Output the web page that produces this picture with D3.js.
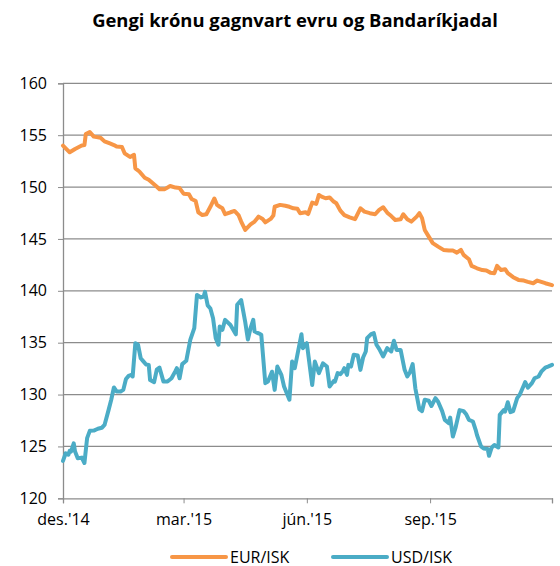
<!DOCTYPE html>
<html>
<head>
<meta charset="utf-8">
<script src="https://cdn.jsdelivr.net/npm/d3@7"></script>
<style>
  body { margin: 0; background: #fff; }
  text { font-family: "Open Sans", "Noto Sans", sans-serif; fill: #000; }
</style>
</head>
<body>
<div id="chart"></div>
<script>
// ISK per EUR
var eurData = [
  ["2014-12-01",154.0],["2014-12-06",153.35],["2014-12-10",153.67],["2014-12-15",154.0],["2014-12-17",154.05],
  ["2014-12-18",155.1],["2014-12-21",155.3],["2014-12-24",154.86],["2014-12-29",154.76],["2015-01-01",154.4],
  ["2015-01-05",154.2],["2015-01-08",154.05],["2015-01-10",153.9],["2015-01-14",153.86],["2015-01-16",153.25],
  ["2015-01-20",152.9],["2015-01-23",153.1],["2015-01-24",151.8],["2015-01-27",151.5],["2015-01-31",150.9],
  ["2015-02-03",150.7],["2015-02-08",150.14],["2015-02-11",149.8],["2015-02-15",149.8],["2015-02-19",150.1],
  ["2015-02-23",149.95],["2015-02-26",149.9],["2015-03-01",149.36],["2015-03-05",149.3],["2015-03-07",148.85],
  ["2015-03-10",148.66],["2015-03-12",147.57],["2015-03-15",147.3],["2015-03-18",147.38],["2015-03-21",148.1],
  ["2015-03-24",148.9],["2015-03-26",148.28],["2015-03-28",148.1],["2015-03-30",147.95],["2015-04-01",147.38],
  ["2015-04-05",147.57],["2015-04-08",147.7],["2015-04-11",147.3],["2015-04-13",146.67],["2015-04-16",145.87],
  ["2015-04-20",146.4],["2015-04-23",146.67],["2015-04-26",147.15],["2015-04-29",146.93],["2015-05-01",146.6],
  ["2015-05-05",146.93],["2015-05-07",147.25],["2015-05-08",148.1],["2015-05-12",148.28],["2015-05-16",148.2],
  ["2015-05-19",148.1],["2015-05-22",147.95],["2015-05-25",147.9],["2015-05-27",147.48],["2015-05-31",147.57],
  ["2015-06-02",147.4],["2015-06-05",148.5],["2015-06-08",148.37],["2015-06-10",149.24],["2015-06-12",149.08],
  ["2015-06-15",148.92],["2015-06-18",149.0],["2015-06-21",148.6],["2015-06-23",148.44],["2015-06-26",147.73],
  ["2015-06-29",147.3],["2015-07-03",147.08],["2015-07-07",146.9],["2015-07-11",147.95],["2015-07-14",147.63],
  ["2015-07-18",147.48],["2015-07-22",147.38],["2015-07-25",147.8],["2015-07-28",148.05],["2015-07-31",147.53],
  ["2015-08-03",147.2],["2015-08-06",146.83],["2015-08-10",146.9],["2015-08-12",147.38],["2015-08-15",146.9],
  ["2015-08-18",146.67],["2015-08-22",147.15],["2015-08-24",147.48],["2015-08-26",147.0],["2015-08-28",145.87],
  ["2015-08-31",145.22],["2015-09-03",144.6],["2015-09-07",144.26],["2015-09-11",143.94],["2015-09-15",143.88],
  ["2015-09-18",143.88],["2015-09-21",143.68],["2015-09-24",143.94],["2015-09-26",143.46],["2015-09-30",143.04],
  ["2015-10-02",142.4],["2015-10-06",142.17],["2015-10-10",142.0],["2015-10-13",141.95],["2015-10-16",141.75],
  ["2015-10-19",141.7],["2015-10-21",142.4],["2015-10-24",142.0],["2015-10-27",142.08],["2015-10-29",141.7],
  ["2015-11-02",141.31],["2015-11-06",141.05],["2015-11-10",140.99],["2015-11-13",140.86],["2015-11-17",140.73],
  ["2015-11-20",140.99],["2015-11-23",140.86],["2015-11-26",140.73],["2015-12-01",140.54]
];

// ISK per USD
var usdData = [
  ["2014-12-01",123.6],["2014-12-03",124.34],["2014-12-05",124.2],["2014-12-06",124.57],["2014-12-07",124.5],
  ["2014-12-09",125.3],["2014-12-10",124.5],["2014-12-12",123.86],["2014-12-15",123.92],["2014-12-17",123.4],
  ["2014-12-19",125.8],["2014-12-21",126.5],["2014-12-24",126.53],["2014-12-27",126.7],["2014-12-30",126.8],
  ["2015-01-01",127.07],["2015-01-04",128.5],["2015-01-06",129.5],["2015-01-08",130.68],["2015-01-10",130.3],
  ["2015-01-13",130.3],["2015-01-15",130.45],["2015-01-17",131.5],["2015-01-19",131.8],["2015-01-21",131.9],
  ["2015-01-22",131.74],["2015-01-24",134.95],["2015-01-26",134.8],["2015-01-28",133.5],["2015-01-30",133.2],
  ["2015-02-01",132.9],["2015-02-03",132.86],["2015-02-04",131.4],["2015-02-07",131.2],["2015-02-09",132.4],
  ["2015-02-11",132.6],["2015-02-14",131.25],["2015-02-17",131.25],["2015-02-20",131.57],["2015-02-23",132.28],
  ["2015-02-24",132.54],["2015-02-26",131.57],["2015-02-28",132.93],["2015-03-03",133.25],["2015-03-06",135.27],
  ["2015-03-09",136.4],["2015-03-11",139.6],["2015-03-14",139.36],["2015-03-16",139.45],["2015-03-17",139.9],
  ["2015-03-19",138.6],["2015-03-21",138.3],["2015-03-23",137.36],["2015-03-25",135.43],["2015-03-27",134.8],
  ["2015-03-28",136.56],["2015-03-30",136.24],["2015-04-01",137.2],["2015-04-05",136.7],["2015-04-09",135.8],
  ["2015-04-10",138.65],["2015-04-13",139.1],["2015-04-16",137.0],["2015-04-18",135.3],["2015-04-20",136.4],
  ["2015-04-22",137.2],["2015-04-23",136.08],["2015-04-26",135.9],["2015-04-28",135.76],["2015-05-01",131.1],
  ["2015-05-03",131.25],["2015-05-06",132.2],["2015-05-08",130.45],["2015-05-10",132.7],["2015-05-13",131.9],
  ["2015-05-15",130.77],["2015-05-19",129.5],["2015-05-21",133.18],["2015-05-23",132.54],["2015-05-28",135.82],
  ["2015-05-29",134.47],["2015-06-01",134.95],["2015-06-05",130.93],["2015-06-07",133.18],["2015-06-10",132.06],
  ["2015-06-13",133.0],["2015-06-16",132.7],["2015-06-18",130.77],["2015-06-21",131.3],["2015-06-22",131.25],
  ["2015-06-24",132.06],["2015-06-26",131.96],["2015-06-28",132.28],["2015-06-29",132.54],["2015-07-01",131.9],
  ["2015-07-02",132.86],["2015-07-04",132.7],["2015-07-06",133.83],["2015-07-09",133.76],["2015-07-11",132.38],
  ["2015-07-13",133.57],["2015-07-15",134.15],["2015-07-16",135.43],["2015-07-19",135.82],["2015-07-21",135.92],
  ["2015-07-23",134.8],["2015-07-25",134.4],["2015-07-28",133.67],["2015-07-31",134.47],["2015-08-03",134.15],
  ["2015-08-05",135.18],["2015-08-07",134.3],["2015-08-10",134.3],["2015-08-13",132.38],["2015-08-15",131.74],
  ["2015-08-17",132.15],["2015-08-19",132.93],["2015-08-21",130.6],["2015-08-24",128.6],["2015-08-26",128.4],
  ["2015-08-28",129.5],["2015-08-31",129.4],["2015-09-02",128.9],["2015-09-05",129.65],["2015-09-07",129.3],
  ["2015-09-10",128.4],["2015-09-12",127.56],["2015-09-15",127.24],["2015-09-16",127.78],["2015-09-18",125.95],
  ["2015-09-20",126.8],["2015-09-23",128.5],["2015-09-26",128.4],["2015-09-28",128.1],["2015-09-30",127.56],
  ["2015-10-03",127.4],["2015-10-05",126.6],["2015-10-06",126.1],["2015-10-09",125.0],["2015-10-11",124.8],
  ["2015-10-14",124.76],["2015-10-15",124.1],["2015-10-17",124.9],["2015-10-19",125.14],["2015-10-22",124.9],
  ["2015-10-23",128.04],["2015-10-26",128.5],["2015-10-27",128.36],["2015-10-29",129.26],["2015-10-31",128.3],
  ["2015-11-02",128.4],["2015-11-05",129.65],["2015-11-07",130.0],["2015-11-10",130.9],["2015-11-11",131.2],
  ["2015-11-13",130.67],["2015-11-16",131.1],["2015-11-18",131.57],["2015-11-21",131.74],["2015-11-23",132.2],
  ["2015-11-26",132.6],["2015-11-28",132.7],["2015-12-01",132.86]
];

var xTickDates = ["2014-12-01","2015-03-01","2015-06-01","2015-09-01","2015-12-01"];
var xTickLabels = ["des.'14","mar.'15","jún.'15","sep.'15",""];
var yTicks = [120,125,130,135,140,145,150,155,160];
var seriesNames = ["EUR/ISK","USD/ISK"];
var seriesColors = ["#f79646","#4bacc6"];

var width = 560, height = 566;
var plotLeft = 63, plotRight = 552, plotTop = 83.3, plotBottom = 498.3;

var parse = d3.utcParse("%Y-%m-%d");

var svg = d3.select("#chart").append("svg")
    .attr("width", width)
    .attr("height", height);

var x = d3.scaleUtc()
    .domain([parse("2014-12-01"), parse("2015-12-01")])
    .range([plotLeft, plotRight]);

var y = d3.scaleLinear()
    .domain([120, 160])
    .range([plotBottom, plotTop]);

// title
svg.append("text")
    .attr("x", 295)
    .attr("y", 26.5)
    .attr("text-anchor", "middle")
    .attr("font-size", "18.4px")
    .attr("font-weight", "bold")
    .text("Gengi krónu gagnvart evru og Bandaríkjadal");

// gridlines
svg.append("g")
    .selectAll("line")
    .data(yTicks.filter(function(d){ return d > 120; }))
    .enter().append("line")
    .attr("x1", plotLeft)
    .attr("x2", plotRight)
    .attr("y1", function(d){ return y(d); })
    .attr("y2", function(d){ return y(d); })
    .attr("stroke", "#8c8c8c")
    .attr("stroke-width", 1.3);

// y axis
var yAxis = svg.append("g")
    .attr("transform", "translate(" + plotLeft + ",0)")
    .call(d3.axisLeft(y).tickValues(yTicks).tickSize(5).tickPadding(11));

yAxis.selectAll(".tick line").attr("stroke", "#8c8c8c");
yAxis.select(".domain").attr("stroke", "#8c8c8c").attr("stroke-width", 1.3);
yAxis.selectAll(".tick text")
    .attr("font-size", "16px")
    .attr("font-family", "Open Sans, sans-serif")
    .attr("fill", "#000");

// x axis
var xAxis = svg.append("g")
    .attr("transform", "translate(0," + plotBottom + ")")
    .call(d3.axisBottom(x)
      .tickValues(xTickDates.map(parse))
      .tickSize(5)
      .tickPadding(10)
      .tickFormat(function(d, i){ return xTickLabels[i]; }));

xAxis.selectAll(".tick line").attr("stroke", "#8c8c8c");
xAxis.select(".domain").attr("stroke", "#8c8c8c").attr("stroke-width", 1.3);
xAxis.selectAll(".tick text")
    .attr("font-size", "16px")
    .attr("font-family", "Open Sans, sans-serif")
    .attr("fill", "#000");

// lines
var line = d3.line()
    .x(function(d){ return x(parse(d[0])); })
    .y(function(d){ return y(d[1]); });

[eurData, usdData].forEach(function(data, i){
  svg.append("path")
    .datum(data)
    .attr("fill", "none")
    .attr("stroke", seriesColors[i])
    .attr("stroke-width", 4)
    .attr("stroke-linejoin", "round")
    .attr("stroke-linecap", "round")
    .attr("d", line);
});

// legend
var legendX = [172, 333];
var legend = svg.append("g")
    .selectAll("g")
    .data(seriesNames)
    .enter().append("g")
    .attr("transform", function(d, i){ return "translate(" + legendX[i] + ",557)"; });

legend.append("line")
    .attr("x1", 0)
    .attr("x2", 54)
    .attr("stroke", function(d, i){ return seriesColors[i]; })
    .attr("stroke-width", 4)
    .attr("stroke-linecap", "round");

legend.append("text")
    .attr("x", 58)
    .attr("y", 5.5)
    .attr("font-size", "16px")
    .text(function(d){ return d; });
</script>
</body>
</html>
